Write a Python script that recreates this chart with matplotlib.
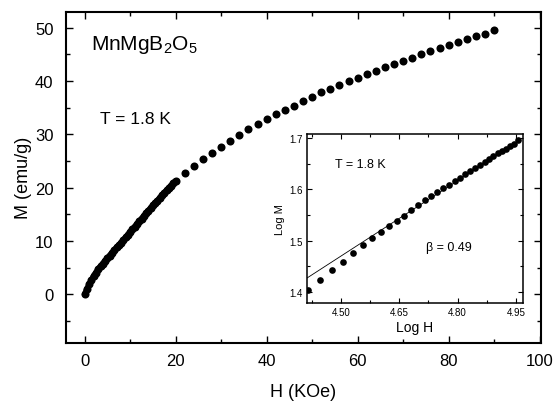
import numpy as np
import matplotlib
matplotlib.use("Agg")
import matplotlib.pyplot as plt
from matplotlib.ticker import MultipleLocator, FormatStrFormatter

plt.rcParams['font.family'] = ['Liberation Sans', 'DejaVu Sans']
plt.rcParams['mathtext.fontset'] = 'custom'
plt.rcParams['mathtext.rm'] = 'Liberation Sans'
plt.rcParams['mathtext.it'] = 'Liberation Sans'
plt.rcParams['mathtext.bf'] = 'Liberation Sans'

# ---- data (H in KOe, M in emu/g) ----
H_low = [0, 0.5, 1, 1.5, 2, 2.5, 3, 3.5, 4, 4.5, 5, 5.5, 6, 6.5, 7, 7.5, 8, 8.5, 9, 9.5,
         10, 10.5, 11, 11.5, 12, 12.5, 13, 13.5, 14, 14.5, 15, 15.5, 16, 16.5, 17, 17.5,
         18, 18.5, 19, 19.5, 20]
M_low = [0, 1.0, 1.9, 2.7, 3.5, 4.1, 4.8, 5.3, 5.8, 6.3, 6.8, 7.3, 7.8, 8.3, 8.8, 9.2,
         9.7, 10.2, 10.7, 11.2, 11.7, 12.2, 12.7, 13.2, 13.7, 14.2, 14.7, 15.2, 15.7,
         16.2, 16.7, 17.2, 17.6, 18.1, 18.6, 19.1, 19.5, 20.0, 20.4, 20.9, 21.3]
H_high = [22, 24, 26, 28, 30, 32, 34, 36, 38, 40, 42, 44, 46, 48, 50, 52, 54, 56, 58,
          60, 62, 64, 66, 68, 70, 72, 74, 76, 78, 80, 82, 84, 86, 88, 90]
M_high = [22.8, 24.1, 25.3, 26.5, 27.7, 28.8, 29.9, 31.0, 32.0, 32.9, 33.8, 34.6, 35.4,
          36.3, 37.1, 37.9, 38.6, 39.3, 40.0, 40.6, 41.3, 41.9, 42.6, 43.2, 43.8, 44.4,
          45.0, 45.6, 46.2, 46.8, 47.3, 47.8, 48.4, 48.9, 49.6]

# inset: log-log of the high-field part (H >= 26 KOe), H converted to Oe
inset_start = 2
logH = np.log10(np.array(H_high[inset_start:]) * 1000.0)
logM = np.log10(np.array(M_high[inset_start:]))
beta = 0.49
fit_intercept = -0.735
fit_range = [4.412, 4.960]

fig = plt.figure(figsize=(5.57, 4.02), dpi=100)
ax = fig.add_axes([0.1185, 0.1443, 0.8528, 0.8241])

# densely measured low-field points overlap into a thick band
ax.plot(H_low, M_low, '-', color='black', linewidth=4.2, solid_capstyle='round')
ax.plot(H_low, M_low, 'o', color='black', markersize=5.8, markeredgewidth=0)
ax.plot(H_high, M_high, 'o', color='black', markersize=5.8, markeredgewidth=0)

ax.set_xlim(-4.1, 100.3)
ax.set_ylim(-9.1, 53.0)
ax.xaxis.set_major_locator(MultipleLocator(20))
ax.xaxis.set_minor_locator(MultipleLocator(10))
ax.yaxis.set_major_locator(MultipleLocator(10))
ax.yaxis.set_minor_locator(MultipleLocator(5))
ax.tick_params(which='both', direction='in', top=True, right=True, width=1.0)
ax.tick_params(which='major', length=5)
ax.tick_params(which='minor', length=3)
ax.tick_params(axis='x', which='major', labelsize=12, pad=7)
ax.tick_params(axis='y', which='major', labelsize=12, pad=9)
for s in ax.spines.values():
    s.set_linewidth(1.5)

ax.set_xlabel('H (KOe)', fontsize=13, labelpad=11)
ax.set_ylabel('M (emu/g)', fontsize=13, labelpad=2)

ax.text(1.5, 46.1, 'MnMgB$_2$O$_5$', fontsize=15, ha='left', va='baseline')
ax.text(3.4, 32.2, 'T = 1.8 K', fontsize=12.5, ha='left', va='baseline')

# ---- inset ----
axin = fig.add_axes([0.5506, 0.243, 0.3883, 0.4212])
axin.plot(logH, logM, 'o', color='black', markersize=4.8, markeredgewidth=0)
fx = np.array(fit_range)
axin.plot(fx, beta * fx + fit_intercept, '-', color='black', linewidth=0.6)
axin.set_xlim(4.412, 4.968)
axin.set_ylim(1.378, 1.708)
axin.xaxis.set_major_locator(MultipleLocator(0.15))
axin.xaxis.set_minor_locator(MultipleLocator(0.075))
axin.yaxis.set_major_locator(MultipleLocator(0.1))
axin.yaxis.set_minor_locator(MultipleLocator(0.05))
axin.xaxis.set_major_formatter(FormatStrFormatter('%.2f'))
axin.yaxis.set_major_formatter(FormatStrFormatter('%.1f'))
axin.tick_params(which='both', direction='in', top=True, right=True, width=0.8, labelsize=7)
axin.tick_params(which='major', length=3.5, pad=3)
axin.tick_params(which='minor', length=2)
for s in axin.spines.values():
    s.set_linewidth(1.1)
axin.set_xlabel('Log H', fontsize=10, labelpad=2)
axin.set_ylabel('Log M', fontsize=8, labelpad=3)
axin.text(4.485, 1.6435, 'T = 1.8 K', fontsize=9, ha='left', va='baseline')
axin.text(4.72, 1.4816, '\u03b2 = 0.49', fontsize=9, ha='left', va='baseline')

fig.savefig('out.png', dpi=100)
